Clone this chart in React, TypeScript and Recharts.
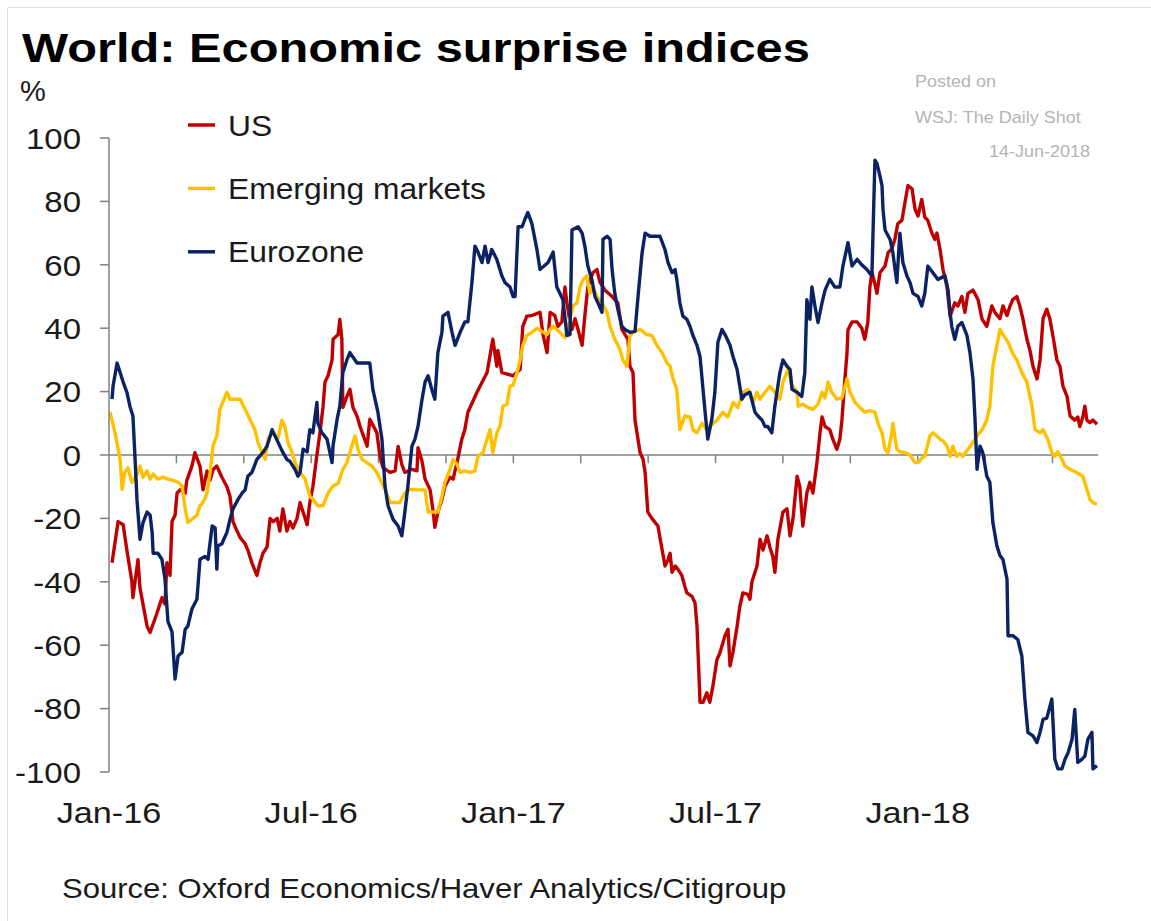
import React from 'react';
import { LineChart, Line, XAxis, YAxis, ReferenceLine } from 'recharts';

// x = months since 1 Jan 2016, y = index value (%)
const usPoints: [number, number][] = [
  [0.09,-34],[0.27,-21],[0.42,-22],[0.53,-30],[0.68,-40],[0.71,-45],[0.86,-33],[0.92,-42],[1.13,-54],[1.22,-56],
  [1.42,-50],[1.57,-45],[1.66,-47],[1.72,-34],[1.81,-38],[1.87,-21],[1.96,-19],[2.02,-12],[2.11,-11],[2.26,-12],
  [2.31,-8],[2.46,-3.5],[2.55,0.7],[2.70,-3.5],[2.79,-11],[2.91,-5],[3.00,-8],[3.09,-4.6],[3.20,-3.5],[3.35,-7],
  [3.50,-10],[3.59,-13],[3.68,-21],[3.80,-24],[3.89,-26],[4.04,-28],[4.12,-30],[4.24,-34],[4.39,-38],[4.48,-34],
  [4.57,-31],[4.69,-29],[4.78,-20],[4.87,-21],[4.99,-20],[5.07,-24],[5.16,-17],[5.28,-24],[5.37,-21],[5.46,-23],
  [5.58,-20],[5.67,-15],[5.88,-22],[5.96,-15],[6.05,-10],[6.17,0],[6.26,7],[6.35,15],[6.41,23],[6.50,25],
  [6.62,30],[6.65,36.5],[6.80,38],[6.85,42.8],[6.91,36.5],[6.94,15],[7.06,18.5],[7.15,20.7],[7.24,15],[7.36,12.3],
  [7.45,9],[7.66,2.8],[7.74,11.3],[7.95,7],[8.04,-0.4],[8.13,-4],[8.34,-5.5],[8.49,-5],[8.58,2.7],[8.69,-3],
  [8.78,-5.5],[8.99,-4.5],[9.14,-5],[9.17,2.3],[9.29,-2],[9.38,-7.6],[9.53,-11],[9.61,-17],[9.67,-22.8],[9.76,-18],
  [9.88,-14],[9.97,-9.8],[10.12,-7],[10.21,-7.6],[10.33,-2.3],[10.47,5],[10.56,8],[10.65,13.5],[10.92,19.8],[11.22,26],
  [11.39,36.5],[11.51,28],[11.54,33],[11.66,26],[11.99,25],[12.20,27],[12.28,40.6],[12.40,43.8],[12.55,44],[12.79,45],
  [12.88,38],[13.00,32.3],[13.09,45],[13.23,44],[13.32,40.6],[13.44,42],[13.53,53],[13.59,48],[13.68,42],[13.74,39.6],
  [13.83,43],[13.92,39.6],[14.04,34.6],[14.12,43.8],[14.21,53],[14.36,57.5],[14.48,58.5],[14.57,54.5],[14.72,52],[14.93,50],
  [15.10,48],[15.22,39.6],[15.40,36.5],[15.46,28],[15.55,26],[15.61,11],[15.76,0.8],[15.85,-1.4],[15.91,-5.5],[15.99,-18],
  [16.11,-20],[16.29,-22.4],[16.41,-29.6],[16.50,-35],[16.59,-33],[16.65,-31],[16.71,-37],[16.80,-35],[16.88,-36],[17.00,-38],
  [17.09,-41.5],[17.15,-43.5],[17.30,-44.6],[17.39,-46.6],[17.45,-54],[17.48,-62],[17.54,-78],[17.63,-78],[17.74,-75],[17.83,-78],
  [17.92,-73],[18.04,-64.6],[18.13,-62.4],[18.28,-57],[18.37,-55],[18.43,-66.5],[18.52,-62],[18.64,-54],[18.72,-47.8],[18.81,-43.5],
  [18.96,-44],[19.02,-45.5],[19.08,-40],[19.23,-35],[19.32,-26.6],[19.41,-30],[19.53,-25.5],[19.61,-29],[19.70,-32],[19.76,-37],
  [19.85,-26.6],[20.00,-18],[20.12,-17],[20.21,-25.5],[20.30,-20],[20.42,-6.7],[20.50,-10],[20.59,-22.4],[20.71,-12],[20.80,-8.6],
  [20.89,-12],[21.01,-2.3],[21.10,7],[21.16,12],[21.25,9],[21.39,8],[21.48,5],[21.60,1.8],[21.69,5],[21.75,11],
  [21.84,24],[21.90,32],[21.93,39.5],[22.05,42],[22.20,42],[22.34,40],[22.43,36.5],[22.52,42],[22.58,53],[22.64,57.5],
  [22.73,54],[22.79,51],[22.88,57.5],[23.03,59.6],[23.12,63.8],[23.23,65],[23.32,68],[23.41,73],[23.53,74],[23.62,79.6],
  [23.71,85],[23.83,84],[23.92,77.5],[24.01,75.4],[24.12,80.6],[24.21,75],[24.30,74],[24.42,70],[24.51,68],[24.57,70],
  [24.66,65],[24.75,58.5],[24.87,53],[24.96,43.8],[25.10,48],[25.19,47],[25.31,50],[25.40,45],[25.49,51],[25.64,52],
  [25.79,49],[25.91,42.8],[26.05,40.6],[26.20,47],[26.29,45],[26.44,43],[26.53,47],[26.65,44],[26.74,47],[26.82,49],
  [26.94,50],[27.03,47],[27.12,43],[27.24,36.5],[27.33,33],[27.42,28],[27.54,24],[27.63,30],[27.72,43],[27.83,46],
  [27.92,43],[28.01,37.7],[28.13,30],[28.22,28],[28.31,21.7],[28.43,18.5],[28.52,12.3],[28.66,11],[28.75,12],[28.81,9],
  [28.90,12],[28.96,15.4],[29.02,11],[29.11,10.2],[29.20,11],[29.32,9.7],
];

const emPoints: [number, number][] = [
  [0.03,13.5],[0.18,7],[0.33,-1.4],[0.39,-10.8],[0.47,-5.5],[0.56,-4],[0.68,-8.6],[0.83,-6],[0.92,-3.5],[1.01,-7],
  [1.13,-5],[1.22,-7.6],[1.31,-6],[1.45,-7.6],[1.60,-7],[1.75,-7.6],[1.90,-8],[2.05,-8.6],[2.17,-9.8],[2.26,-17],
  [2.34,-21.3],[2.49,-20],[2.61,-19],[2.70,-16],[2.79,-15],[2.91,-12],[3.00,-5.5],[3.09,3],[3.20,6],[3.29,14.4],
  [3.50,19.8],[3.59,17.6],[3.89,17.6],[4.04,14.4],[4.18,11.3],[4.33,8],[4.42,4],[4.54,0.8],[4.63,-1.4],[4.72,5],
  [4.84,7],[5.01,5],[5.13,11],[5.22,9],[5.31,4],[5.43,0.8],[5.52,-2.3],[5.67,-5.5],[5.82,-7.6],[5.96,-13],
  [6.05,-14],[6.20,-16],[6.35,-16],[6.50,-12],[6.65,-9.8],[6.80,-9],[6.94,-4.5],[7.06,-2.4],[7.15,0.8],[7.30,6],
  [7.39,1.8],[7.51,-1.4],[7.66,-2.5],[7.80,-3.5],[7.95,-5.5],[8.04,-7.6],[8.19,-10.8],[8.34,-15],[8.49,-15],[8.63,-15],
  [8.78,-12],[8.93,-10.8],[9.17,-11],[9.38,-11],[9.47,-18],[9.61,-18],[9.76,-18],[9.88,-13],[9.97,-8.6],[10.12,-4.5],
  [10.21,-1.4],[10.33,-3],[10.42,-5.5],[10.56,-5],[10.71,-5.5],[10.86,-5],[10.95,-0.4],[11.10,0.8],[11.22,5],[11.31,8],
  [11.39,0.8],[11.51,7],[11.60,9],[11.69,15.4],[11.81,16],[11.90,21.7],[11.99,22],[12.11,26],[12.20,30],[12.28,34.6],
  [12.40,37.7],[12.55,38.7],[12.70,40],[12.85,39],[13.00,38],[13.09,39.6],[13.18,40.6],[13.38,38.7],[13.53,37],[13.68,42.8],
  [13.77,47],[13.89,48],[13.98,53],[14.07,55.4],[14.18,56.5],[14.27,51],[14.36,53],[14.48,50],[14.63,48],[14.78,45],
  [14.87,40.6],[15.01,36.5],[15.16,33.4],[15.25,30],[15.37,28],[15.46,37.7],[15.55,38.7],[15.76,39.6],[15.96,38],[16.11,37.7],
  [16.26,34.6],[16.41,32.3],[16.56,29],[16.65,28],[16.74,24],[16.85,20.7],[16.94,8],[17.09,12.3],[17.24,12],[17.33,8],
  [17.45,7],[17.60,10],[17.74,8],[17.83,9],[18.04,11],[18.22,13.5],[18.37,12],[18.52,16.6],[18.66,15],[18.81,19.8],
  [18.96,20.7],[19.11,16.6],[19.23,19.8],[19.32,17.6],[19.47,19.8],[19.61,21.7],[19.76,19.8],[19.91,17.6],[20.00,23],[20.15,27],
  [20.27,22],[20.42,19.8],[20.45,15.4],[20.59,16],[20.74,15],[20.89,14.4],[21.04,16],[21.16,19.8],[21.25,18],[21.34,23],
  [21.45,19.8],[21.60,17.6],[21.75,18],[21.90,24],[21.99,19.8],[22.14,16.6],[22.28,15],[22.43,13.5],[22.58,14],[22.73,13.5],
  [22.82,10],[22.94,7],[23.03,1.8],[23.12,0.8],[23.23,7],[23.26,10],[23.38,1.8],[23.47,1],[23.62,0.8],[23.77,0],
  [23.92,-2.4],[24.01,-2.4],[24.12,-1],[24.21,-0.4],[24.36,6],[24.45,7],[24.57,6],[24.66,5],[24.75,4.5],[24.87,2.8],
  [24.96,-0.4],[25.04,2.8],[25.16,-0.4],[25.25,0.5],[25.34,-0.4],[25.49,1.8],[25.64,4],[25.76,6],[25.91,8],[26.05,11],
  [26.14,15.4],[26.23,28],[26.35,34.6],[26.44,39.6],[26.53,38],[26.68,35.6],[26.82,32],[26.94,30],[27.09,26],[27.24,23],
  [27.39,15.4],[27.48,8],[27.63,7],[27.72,8],[27.86,5],[27.98,0.8],[28.07,-0.4],[28.16,1],[28.28,-1.4],[28.37,-3.5],
  [28.52,-4.5],[28.72,-5.5],[28.90,-6.7],[29.02,-10.8],[29.11,-14],[29.20,-15],[29.32,-15.5],
];

const ezPoints: [number, number][] = [
  [0.09,17.6],[0.12,21.7],[0.24,29],[0.33,26],[0.42,23],[0.53,19.8],[0.62,15.4],[0.71,12.3],[0.77,-0.4],[0.83,-14],
  [0.92,-26.6],[1.01,-21.3],[1.13,-18],[1.22,-19],[1.28,-24.4],[1.31,-31],[1.45,-31],[1.57,-32.9],[1.66,-39],[1.75,-52.6],
  [1.87,-55.8],[1.96,-70.7],[2.05,-63.4],[2.17,-62.2],[2.26,-55],[2.34,-54],[2.46,-48.6],[2.61,-45.5],[2.70,-32.9],[2.85,-32],
  [2.94,-32.9],[3.06,-22.4],[3.15,-23],[3.20,-36],[3.23,-28.7],[3.35,-28],[3.50,-24.4],[3.59,-20.3],[3.68,-17],[3.83,-14],
  [3.95,-12],[4.04,-11],[4.12,-6.7],[4.24,-5.5],[4.39,-1.4],[4.57,0.8],[4.69,2.8],[4.84,8],[4.93,6],[5.07,2.8],
  [5.16,0.8],[5.28,-1.4],[5.37,-2],[5.52,-4.5],[5.61,-6.7],[5.67,-5.5],[5.76,1.8],[5.88,1],[5.96,8],[6.05,7],
  [6.17,16.6],[6.20,10],[6.32,7],[6.47,5],[6.62,-2.4],[6.65,3],[6.77,11.3],[6.85,15.4],[6.94,26],[7.06,30],
  [7.15,32.3],[7.36,29],[7.54,29],[7.74,29],[7.83,20.7],[7.98,13.5],[8.10,5],[8.19,-9.8],[8.28,-16],[8.43,-20.3],
  [8.58,-22.4],[8.69,-25.5],[8.78,-18],[8.87,-9.8],[8.99,2.8],[9.08,5],[9.17,9],[9.29,17.6],[9.38,23],[9.47,25],
  [9.58,20.7],[9.67,17.6],[9.76,32.3],[9.88,38.7],[9.91,43.8],[10.06,45],[10.18,38.7],[10.27,34.6],[10.42,38.7],[10.56,42],
  [10.65,42],[10.77,54.4],[10.86,65.9],[10.95,64],[11.07,60.7],[11.16,65.9],[11.25,60.7],[11.36,64.8],[11.51,61.7],[11.66,56.5],
  [11.75,54.4],[11.90,53],[11.99,50],[12.05,50],[12.14,72],[12.26,72],[12.34,74.3],[12.43,76.5],[12.55,73],[12.70,64.8],
  [12.79,58.5],[13.03,60.7],[13.18,64],[13.29,53],[13.38,51],[13.47,49],[13.59,37.7],[13.68,38],[13.74,71],[13.92,72],
  [14.04,70],[14.12,66],[14.21,59.6],[14.33,55.4],[14.42,50],[14.51,48],[14.63,45],[14.66,68],[14.78,69],[14.87,68],
  [14.93,58.5],[15.01,51],[15.10,46],[15.22,40.6],[15.31,39.6],[15.46,38.7],[15.61,39],[15.70,50],[15.82,63.8],[15.91,70],
  [16.05,69],[16.20,69],[16.35,69],[16.50,64.8],[16.59,60.7],[16.71,57.5],[16.80,58.5],[16.85,55.4],[16.94,48],[17.03,43.8],
  [17.15,42.8],[17.24,40.6],[17.33,37.7],[17.45,34.6],[17.54,31],[17.60,24],[17.69,13.5],[17.77,5],[17.89,11.3],[17.98,19.8],
  [18.07,35.6],[18.19,39.6],[18.28,38],[18.43,34.6],[18.52,31],[18.64,27],[18.72,21.7],[18.78,17.6],[18.87,19],[19.02,19.8],
  [19.17,13.5],[19.26,12.3],[19.38,11],[19.47,9],[19.55,9],[19.67,7],[19.76,15.4],[19.91,26],[20.00,30],[20.12,28],
  [20.21,27],[20.27,20.7],[20.42,19.8],[20.56,18.5],[20.65,26],[20.71,49],[20.80,42.8],[20.86,53],[20.95,47],[21.04,41.8],
  [21.16,48],[21.25,52],[21.39,55.4],[21.54,53],[21.69,53],[21.78,59.6],[21.93,67],[22.05,59.6],[22.20,61.7],[22.34,60],
  [22.49,58.5],[22.64,56.5],[22.73,93],[22.79,92],[22.88,88],[22.94,85],[22.97,77.5],[23.03,71],[23.18,68],[23.26,64],
  [23.38,54.4],[23.47,70],[23.56,60.7],[23.68,56.5],[23.77,54.4],[23.86,51],[24.01,50],[24.12,47],[24.21,51],[24.30,59.6],
  [24.45,57.5],[24.60,55.4],[24.81,56.5],[24.90,52],[24.96,45],[25.01,40.6],[25.10,36.5],[25.19,40.6],[25.31,41.8],[25.46,37.7],
  [25.55,32.3],[25.64,24],[25.70,11.3],[25.76,-4.5],[25.85,2.8],[25.93,0.8],[26.05,-6.7],[26.14,-8.6],[26.23,-21.3],[26.35,-28.7],
  [26.44,-31.7],[26.53,-33],[26.65,-39.2],[26.68,-57],[26.82,-57],[26.97,-58.2],[27.09,-63.4],[27.18,-77],[27.27,-87.5],[27.42,-88.6],
  [27.54,-90.7],[27.63,-87.5],[27.72,-83.4],[27.83,-83],[27.98,-77],[28.07,-96],[28.16,-99],[28.28,-99],[28.37,-96],[28.46,-94],
  [28.58,-89.7],[28.66,-80.3],[28.75,-97],[28.87,-96],[28.96,-95],[29.05,-89.7],[29.17,-87.5],[29.20,-99],[29.32,-98],
];

const seriesNames = ['US', 'Emerging markets', 'Eurozone'];
const seriesColors = ['#C00000', '#FFC000', '#0B2265'];
const yTicks = [-100, -80, -60, -40, -20, 0, 20, 40, 60, 80, 100];
const xLabelMonths = [0, 6, 12, 18, 24];
const xLabels = ['Jan-16', 'Jul-16', 'Jan-17', 'Jul-17', 'Jan-18'];
const minorTickMonths = [2, 4, 6, 8, 10, 12, 14, 16, 18, 20, 22, 24, 26, 28];

const FONT = '"Liberation Sans", Arial, Helvetica, sans-serif';
const AXIS_GREY = '#808080';

const toRows = (pts: [number, number][]) => pts.map(([m, v]) => ({ m, v }));
const seriesData = [toRows(usPoints), toRows(emPoints), toRows(ezPoints)];

const YTick = (props: any) => {
  const { x, y, payload } = props;
  return (
    <text
      transform={`translate(${x},${y}) scale(1.1,1)`}
      textAnchor="end"
      dy="0.36em"
      fontSize={30}
      fontFamily={FONT}
      fill="#1a1a1a"
    >
      {payload.value}
    </text>
  );
};

const XTick = (props: any) => {
  const { x, y, payload } = props;
  const idx = xLabelMonths.indexOf(payload.value);
  return (
    <text
      transform={`translate(${x},${y + 51}) scale(1.18,1)`}
      textAnchor="middle"
      fontSize={29}
      fontFamily={FONT}
      fill="#1a1a1a"
    >
      {idx >= 0 ? xLabels[idx] : ''}
    </text>
  );
};

export default function App() {
  return (
    <div style={{ position: 'absolute', left: 0, top: 0, width: 1151, height: 921, background: '#fff', overflow: 'hidden' }}>
      <div style={{ position: 'absolute', left: 0, top: 0 }}>
        <LineChart width={1151} height={921} margin={{ top: 138, right: 53, bottom: 89, left: 29 }}>
          <XAxis
            dataKey="m"
            type="number"
            domain={[0, 29.35]}
            ticks={xLabelMonths}
            interval={0}
            allowDataOverflow
            axisLine={false}
            tickLine={false}
            tickSize={0}
            tickMargin={0}
            height={60}
            tick={XTick}
          />
          <YAxis
            type="number"
            domain={[-100, 100]}
            ticks={yTicks}
            interval={0}
            width={80}
            tickSize={9}
            tickMargin={19}
            axisLine={{ stroke: AXIS_GREY, strokeWidth: 1.5 }}
            tickLine={{ stroke: AXIS_GREY, strokeWidth: 1.5 }}
            tick={YTick}
          />
          <ReferenceLine y={0} stroke={AXIS_GREY} strokeWidth={1.5} />
          {minorTickMonths.map((mm) => (
            <ReferenceLine
              key={mm}
              segment={[{ x: mm, y: 0 }, { x: mm, y: -2.6 }]}
              stroke={AXIS_GREY}
              strokeWidth={1.5}
            />
          ))}
          {seriesData.map((rows, i) => (
            <Line
              key={seriesNames[i]}
              data={rows}
              dataKey="v"
              name={seriesNames[i]}
              type="linear"
              stroke={seriesColors[i]}
              strokeWidth={3.4}
              strokeLinejoin="round"
              dot={false}
              activeDot={false}
              isAnimationActive={false}
            />
          ))}
        </LineChart>
      </div>
      <svg width={1151} height={921} style={{ position: 'absolute', left: 0, top: 0, pointerEvents: 'none' }}>
        <rect x={7.5} y={7.5} width={1160} height={940} fill="none" stroke="#e2e2e2" strokeWidth={1} />
        <text transform="translate(22,62) scale(1.19,1)" fontSize={41} fontWeight="bold" fontFamily={FONT} fill="#000">
          World: Economic surprise indices
        </text>
        <text x={20} y={101} fontSize={29} fontFamily={FONT} fill="#1a1a1a">%</text>
        {seriesNames.map((name, i) => (
          <g key={name}>
            <line x1={188} x2={215} y1={125 + i * 63.4} y2={125 + i * 63.4} stroke={seriesColors[i]} strokeWidth={3.5} />
            <text
              transform={`translate(228,${135.5 + i * 63.4}) scale(1.06,1)`}
              fontSize={30}
              fontFamily={FONT}
              fill="#1a1a1a"
            >
              {name}
            </text>
          </g>
        ))}
        <text transform="translate(915,87) scale(1.06,1)" fontSize={17} fontFamily={FONT} fill="#b4b4b4">Posted on</text>
        <text transform="translate(915,123) scale(1.06,1)" fontSize={17} fontFamily={FONT} fill="#b4b4b4">WSJ: The Daily Shot</text>
        <text transform="translate(1090,157) scale(1.06,1)" textAnchor="end" fontSize={17} fontFamily={FONT} fill="#b4b4b4">14-Jun-2018</text>
        <text transform="translate(62,898) scale(1.15,1)" fontSize={27} fontFamily={FONT} fill="#1a1a1a">
          Source: Oxford Economics/Haver Analytics/Citigroup
        </text>
      </svg>
    </div>
  );
}
